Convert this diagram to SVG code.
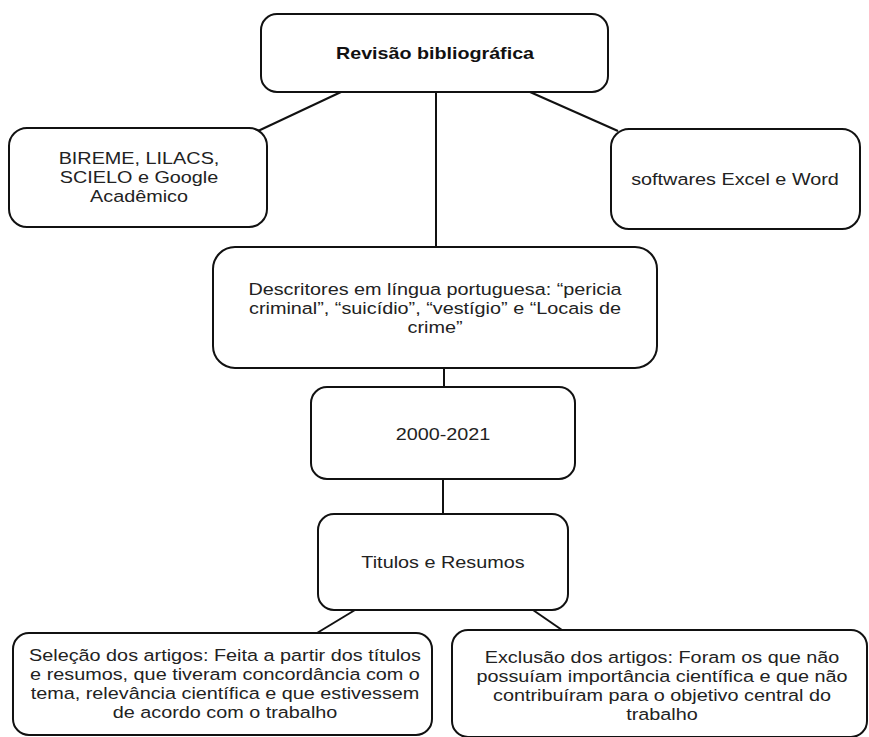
<svg xmlns="http://www.w3.org/2000/svg" width="869" height="737" viewBox="0 0 869 737">
<style>
.box{fill:#fff;stroke:#111;stroke-width:2}
.edge{stroke:#111;stroke-width:2;fill:none}
text{font-family:"Liberation Sans",Arial,sans-serif;font-size:16.8px;fill:#222;text-anchor:middle}
.b{font-weight:bold;font-size:16.7px;fill:#111}
</style>
<rect width="869" height="737" fill="#fff"/>
<g id="connectors">
<line class="edge" x1="341" y1="92" x2="258" y2="131"/>
<line class="edge" x1="530" y1="92" x2="618" y2="131"/>
<line class="edge" x1="436" y1="92" x2="436" y2="247"/>
<line class="edge" x1="444" y1="368" x2="444" y2="387"/>
<line class="edge" x1="443" y1="479" x2="443" y2="514"/>
<line class="edge" x1="355" y1="610" x2="317" y2="633"/>
<line class="edge" x1="533" y1="610" x2="562" y2="630"/>
</g>
<g id="n-revisao">
<rect class="box" x="261" y="14" width="347" height="78" rx="16"/>
<g transform="translate(435,0) scale(1.18,1)"><text class="b" x="0" y="59">Revisão bibliográfica</text></g>
</g>
<g id="n-bases">
<rect class="box" x="9" y="128" width="258" height="99" rx="18"/>
<g transform="translate(139,0) scale(1.18,1)"><text x="0" y="164">BIREME, LILACS,</text><text x="0" y="183">SCIELO e Google</text><text x="0" y="202">Acadêmico</text></g>
</g>
<g id="n-softwares">
<rect class="box" x="611" y="129" width="249" height="100" rx="18"/>
<g transform="translate(735,0) scale(1.18,1)"><text x="0" y="185">softwares Excel e Word</text></g>
</g>
<g id="n-descritores">
<rect class="box" x="213" y="247" width="444" height="121" rx="22"/>
<g transform="translate(435,0) scale(1.18,1)"><text x="0" y="295">Descritores em língua portuguesa: “pericia</text><text x="0" y="314">criminal”, “suicídio”, “vestígio” e “Locais de</text><text x="0" y="333">crime”</text></g>
</g>
<g id="n-periodo">
<rect class="box" x="311" y="387" width="264" height="92" rx="16"/>
<g transform="translate(443,0) scale(1.18,1)"><text x="0" y="440">2000-2021</text></g>
</g>
<g id="n-titulos">
<rect class="box" x="318" y="514" width="250" height="96" rx="16"/>
<g transform="translate(443,0) scale(1.18,1)"><text x="0" y="568">Titulos e Resumos</text></g>
</g>
<g id="n-selecao">
<rect class="box" x="13" y="633" width="419" height="102" rx="16"/>
<g transform="translate(225,0) scale(1.18,1)"><text x="0" y="661">Seleção dos artigos: Feita a partir dos títulos</text><text x="0" y="680">e resumos, que tiveram concordância com o</text><text x="0" y="699">tema, relevância científica e que estivessem</text><text x="0" y="718">de acordo com o trabalho</text></g>
</g>
<g id="n-exclusao">
<rect class="box" x="452" y="630" width="415" height="107" rx="16"/>
<g transform="translate(662,0) scale(1.18,1)"><text x="0" y="663">Exclusão dos artigos: Foram os que não</text><text x="0" y="682">possuíam importância científica e que não</text><text x="0" y="701">contribuíram para o objetivo central do</text><text x="0" y="720">trabalho</text></g>
</g>
</svg>
